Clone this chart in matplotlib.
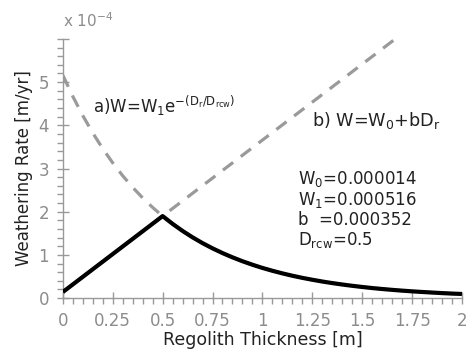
import numpy as np
import matplotlib
matplotlib.use('Agg')
import matplotlib.pyplot as plt
from matplotlib.ticker import MultipleLocator, FixedFormatter, FixedLocator

# data (rates in units of 1e-4 m/yr)
depth = [0.00, 0.05, 0.10, 0.15, 0.20, 0.25, 0.30, 0.35, 0.40, 0.45, 0.50,
         0.55, 0.60, 0.65, 0.70, 0.75, 0.80, 0.85, 0.90, 0.95, 1.00,
         1.05, 1.10, 1.15, 1.20, 1.25, 1.30, 1.35, 1.40, 1.45, 1.50,
         1.55, 1.60, 1.65, 1.70, 1.75, 1.80, 1.85, 1.90, 1.95, 2.00]
rate_exp = [5.160, 4.669, 4.225, 3.823, 3.459, 3.130, 2.832, 2.562, 2.319, 2.098, 1.898,
            1.718, 1.554, 1.406, 1.272, 1.151, 1.042, 0.943, 0.853, 0.772, 0.698,
            0.632, 0.572, 0.517, 0.468, 0.424, 0.383, 0.347, 0.314, 0.284, 0.257,
            0.232, 0.210, 0.190, 0.172, 0.156, 0.141, 0.128, 0.115, 0.104, 0.095]
depth_lin = [0.0, 1.7]
rate_lin = [0.14, 6.12]

# solid curve = linear up to 0.5 then exponential
depth_solid = [0.0] + depth[10:]
rate_solid = [0.14] + rate_exp[10:]

xticks = [0, 0.25, 0.5, 0.75, 1, 1.25, 1.5, 1.75, 2]
xlabels = ['0', '0.25', '0.5', '0.75', '1', '1.25', '1.5', '1.75', '2']
yticks = [0, 1, 2, 3, 4, 5, 6]
ylabels = ['0', '1', '2', '3', '4', '5', '']

plt.rcParams['font.family'] = ['DejaVu Sans']
plt.rcParams['mathtext.default'] = 'regular'

fig = plt.figure(figsize=(4.69, 3.54), dpi=100)
ax = fig.add_axes([0.134, 0.158, 0.851, 0.732])

gray = '#9a9a9a'
ax.plot(depth, rate_exp, color=gray, lw=2.3, dashes=(4, 3), zorder=2)
ax.plot(depth_lin, rate_lin, color=gray, lw=2.3, dashes=(4, 3), zorder=2)
ax.plot(depth_solid, rate_solid, color='black', lw=3, zorder=3, solid_capstyle='butt')

ax.set_xlim(0, 2)
ax.set_ylim(0, 6)

for s in ['top', 'right']:
    ax.spines[s].set_visible(False)
for s in ['left', 'bottom']:
    ax.spines[s].set_color('#999999')
    ax.spines[s].set_linewidth(1.0)

ax.xaxis.set_major_locator(FixedLocator(xticks))
ax.xaxis.set_major_formatter(FixedFormatter(xlabels))
ax.xaxis.set_minor_locator(MultipleLocator(0.05))
ax.yaxis.set_major_locator(FixedLocator(yticks))
ax.yaxis.set_major_formatter(FixedFormatter(ylabels))
ax.yaxis.set_minor_locator(MultipleLocator(0.2))

ax.tick_params(which='major', direction='inout', length=8, width=1, color='#999999',
               labelcolor='#8c8c8c', labelsize=12, pad=6)
ax.tick_params(which='minor', direction='out', length=4, width=1, color='#999999')

ax.set_xlabel('Regolith Thickness [m]', fontsize=12.5, color='#222222', labelpad=1)
ax.set_ylabel('Weathering Rate [m/yr]', fontsize=12, color='#222222', labelpad=4)

fig.text(0.134, 0.915, 'x 10$^{-4}$', fontsize=11, color='#8c8c8c', ha='left', va='bottom')

ax.text(0.15, 4.45, 'a)W=W$_1$e$^{-(D_r/D_{rcw})}$', fontsize=12, color='#222222',
        ha='left', va='center')
ax.text(1.25, 4.12, 'b) W=W$_0$+bD$_r$', fontsize=12.7, color='#222222',
        ha='left', va='center')
ax.text(1.18, 3.0, 'W$_0$=0.000014\nW$_1$=0.000516\nb  =0.000352\nD$_{rcw}$=0.5',
        fontsize=12, color='#222222', ha='left', va='top', linespacing=1.08)

fig.savefig('out.png', dpi=100)
